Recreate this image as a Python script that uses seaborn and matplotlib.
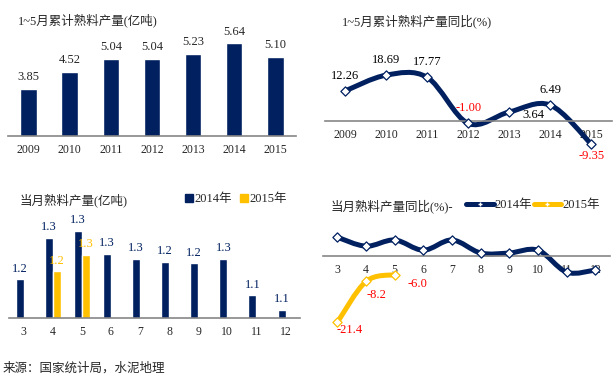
import numpy as np
import pandas as pd
import seaborn as sns
import matplotlib.pyplot as plt
from matplotlib.path import Path
from matplotlib.patches import PathPatch, Patch
from matplotlib.lines import Line2D

# data
years = ["2009", "2010", "2011", "2012", "2013", "2014", "2015"]
cum_output = [3.85, 4.52, 5.04, 5.04, 5.23, 5.64, 5.10]
cum_yoy = [12.26, 18.69, 17.77, -1.00, 3.64, 6.49, -9.35]

months = ["3", "4", "5", "6", "7", "8", "9", "10", "11", "12"]
month_out_2014 = [1.19, 1.32, 1.34, 1.27, 1.255, 1.245, 1.24, 1.255, 1.14, 1.095]
month_out_2015 = [np.nan, 1.215, 1.265, np.nan, np.nan, np.nan, np.nan, np.nan, np.nan, np.nan]
month_yoy_2014 = [6.1, 3.2, 5.2, 1.9, 5.2, 1.0, 1.0, 1.9, -5.2, -4.5]
month_yoy_2015 = [-21.4, -8.2, -6.0]

NAVY = "#002060"
GOLD = "#FFC000"
RED = "#FF0000"
GREY = "#868686"
SERIF = ["Liberation Serif", "Noto Sans CJK SC"]
CJK = ["Noto Sans CJK SC", "DejaVu Sans"]

sns.set_style("white")
plt.rcParams["font.family"] = SERIF


def smooth_path(xs, ys):
    # excel style smoothed line: catmull-rom as cubic bezier segments
    pts = np.column_stack([xs, ys]).astype(float)
    n = len(pts)
    verts = [pts[0]]
    codes = [Path.MOVETO]
    for i in range(n - 1):
        p0 = pts[i - 1] if i > 0 else pts[i]
        p1, p2 = pts[i], pts[i + 1]
        p3 = pts[i + 2] if i + 2 < n else pts[i + 1]
        verts += [p1 + (p2 - p0) / 6, p2 - (p3 - p1) / 6, p2]
        codes += [Path.CURVE4] * 3
    return Path(verts, codes)


def style_axis(ax, labels, zero_line=False):
    n = len(labels)
    for s in ["top", "right", "left"]:
        ax.spines[s].set_visible(False)
    ax.spines["bottom"].set_color(GREY)
    ax.spines["bottom"].set_linewidth(1.2)
    if zero_line:
        ax.spines["bottom"].set_position(("data", 0))
    ax.set_xlim(-0.5, n - 0.5)
    ax.set_xticks(range(n))
    ax.set_xticklabels(labels, fontsize=8.5, family=SERIF)
    ax.set_xticks(np.arange(-0.5, n), minor=True)
    ax.tick_params(axis="x", which="major", length=0, pad=6)
    ax.tick_params(axis="x", which="minor", length=4, width=1, color=GREY, direction="out")
    ax.set_yticks([])
    ax.set_xlabel("")
    ax.set_ylabel("")
    ax.patch.set_alpha(0)


def smooth_line(ax, xs, ys, color):
    ax.add_patch(PathPatch(smooth_path(xs, ys), fill=False, lw=3.6, edgecolor=color,
                           capstyle="round", joinstyle="round", zorder=2))
    sns.scatterplot(x=xs, y=ys, marker="D", s=22, color="white", edgecolor=color,
                    linewidth=0.9, ax=ax, zorder=3, legend=False)


fig = plt.figure(figsize=(6.14, 3.79), dpi=100)

# top left: cumulative output bars
ax1 = fig.add_axes([0.013, 0.641, 0.469, 0.269])
sns.barplot(x=years, y=cum_output, color=NAVY, width=0.4, saturation=1, ax=ax1)
ax1.set_ylim(2, 6)
style_axis(ax1, years)
ax1.bar_label(ax1.containers[0], fmt="%.2f", padding=4, fontsize=9, family=SERIF)

# top right: cumulative yoy line
ax2 = fig.add_axes([0.529, 0.584, 0.467, 0.2586])
ax2.set_ylim(-15, 25)
xs2 = np.arange(len(years))
smooth_line(ax2, xs2, cum_yoy, NAVY)
style_axis(ax2, years, zero_line=True)
offs2 = [(0, 15), (0, 15), (0, 15), (0, 15), (24, -3), (0, 15), (1, -12)]
for x, v, o in zip(xs2, cum_yoy, offs2):
    ax2.annotate(f"{v:.2f}", (x, v), xytext=o, textcoords="offset pixels",
                 ha="center", va="center", fontsize=9, family=SERIF,
                 color=RED if v < 0 else "black")

# bottom left: monthly output grouped bars
df = pd.DataFrame({
    "month": months * 2,
    "value": month_out_2014 + month_out_2015,
    "year": ["2014年"] * len(months) + ["2015年"] * len(months),
})
ax3 = fig.add_axes([0.0147, 0.161, 0.474, 0.2797])
sns.barplot(data=df, x="month", y="value", hue="year", palette=[NAVY, GOLD],
            width=0.55, saturation=1, ax=ax3, legend=False)
ax3.set_ylim(1.07, 1.40)
style_axis(ax3, months)
for cont, col in zip(ax3.containers, [NAVY, GOLD]):
    ax3.bar_label(cont, fmt="%.1f", padding=3.5, fontsize=9, family=SERIF, color=col)
fig.legend(handles=[Patch(color=NAVY, label="2014年"), Patch(color=GOLD, label="2015年")],
           loc="center left", bbox_to_anchor=(0.302, 1 - 199 / 379), ncol=2, frameon=False,
           handlelength=0.6, handleheight=0.6, handletextpad=0.1, columnspacing=0.7,
           prop={"family": SERIF, "size": 9}, borderaxespad=0, borderpad=0)

# bottom right: monthly yoy lines
ax4 = fig.add_axes([0.526, 0.120, 0.467, 0.286])
ax4.set_ylim(-25, 10)
xs4 = np.arange(len(months))
smooth_line(ax4, xs4, month_yoy_2014, NAVY)
xs5 = np.arange(len(month_yoy_2015))
smooth_line(ax4, xs5, month_yoy_2015, GOLD)
style_axis(ax4, months, zero_line=True)
offs4 = [(12, -8), (10, -14), (23, -9)]
for x, v, o in zip(xs5, month_yoy_2015, offs4):
    ax4.annotate(f"{v:.1f}", (x, v), xytext=o, textcoords="offset pixels",
                 ha="center", va="center", fontsize=9, family=SERIF, color=RED)
line_handles = [
    Line2D([], [], color=c, lw=3.6, marker="+", markersize=3, markeredgecolor="white",
           label=lab) for c, lab in [(NAVY, "2014年"), (GOLD, "2015年")]
]
fig.legend(handles=line_handles, loc="center left", bbox_to_anchor=(466 / 614, 1 - 205 / 379),
           ncol=2, frameon=False, handlelength=2.2, handletextpad=0.1, columnspacing=0.1,
           prop={"family": SERIF, "size": 9}, borderaxespad=0, borderpad=0)

# titles and source
fig.text(18 / 614, 1 - 20 / 379, "1~5月累计熟料产量(亿吨)", family=SERIF, fontsize=9, va="center")
fig.text(342 / 614, 1 - 21 / 379, "1~5月累计熟料产量同比(%)", family=SERIF, fontsize=9, va="center")
fig.text(20 / 614, 1 - 200 / 379, "当月熟料产量(亿吨)", family=SERIF, fontsize=9, va="center")
fig.text(331 / 614, 1 - 206 / 379, "当月熟料产量同比(%)-", family=SERIF, fontsize=9, va="center")
fig.text(3 / 614, 1 - 368 / 379, "来源：国家统计局，水泥地理", family=CJK, fontsize=9, va="center")

fig.savefig("out.png", dpi=100)
